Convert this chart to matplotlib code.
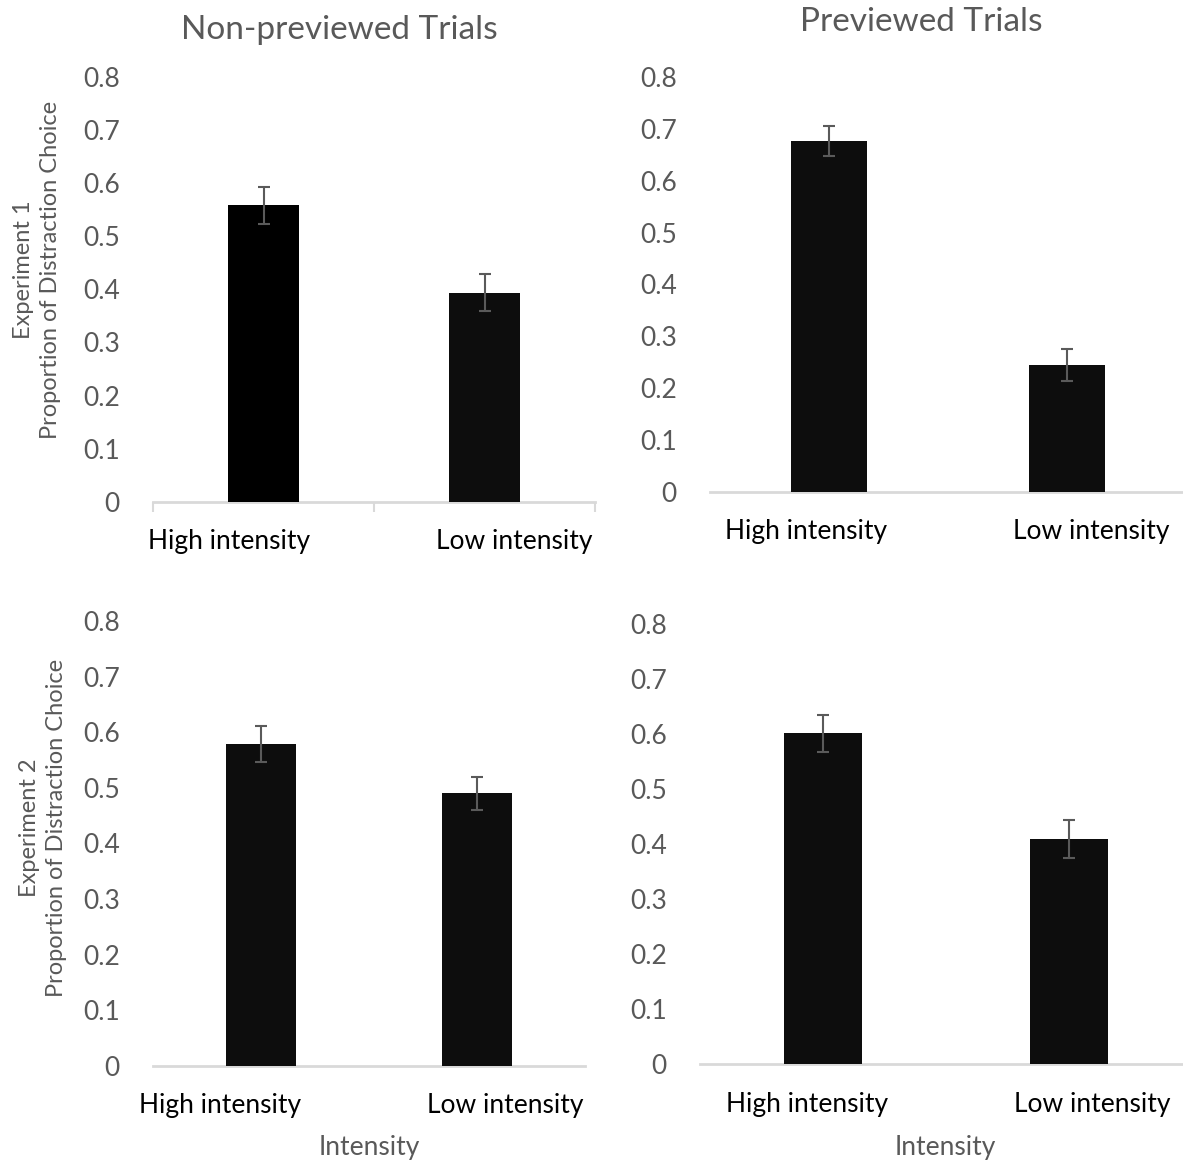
import matplotlib
matplotlib.use("Agg")
import matplotlib.pyplot as plt
import matplotlib.transforms as mtransforms

plt.rcParams['font.family'] = ['Lato', 'DejaVu Sans']

categories = ["High intensity", "Low intensity"]
exp1_nonprev = [0.558, 0.394]
exp1_nonprev_err = [0.035, 0.034]
exp1_prev = [0.676, 0.244]
exp1_prev_err = [0.029, 0.031]
exp2_nonprev = [0.579, 0.490]
exp2_nonprev_err = [0.032, 0.030]
exp2_prev = [0.601, 0.409]
exp2_prev_err = [0.033, 0.035]
yticks = [0, 0.1, 0.2, 0.3, 0.4, 0.5, 0.6, 0.7, 0.8]
ytick_labels = ["0", "0.1", "0.2", "0.3", "0.4", "0.5", "0.6", "0.7", "0.8"]

W, H = 1183, 1163
DPI = 100
fig = plt.figure(figsize=(W / DPI, H / DPI), dpi=DPI)

GRAY = "#595959"
AXIS = "#d9d9d9"
FS = 19


def px_axes(x0, x1, y_bottom, y_top):
    return fig.add_axes([x0 / W, 1 - y_bottom / H, (x1 - x0) / W, (y_bottom - y_top) / H])


panels = [
    ((153, 595, 501.7, 77), exp1_nonprev, exp1_nonprev_err, (-34, 30), ["#000000", "#0d0d0d"], True),
    ((710, 1186, 491.7, 77), exp1_prev, exp1_prev_err, (-23, 24), ["#0d0d0d", "#0d0d0d"], False),
    ((153, 585, 1065.7, 621), exp2_nonprev, exp2_nonprev_err, (-41, 28), ["#0d0d0d", "#0d0d0d"], False),
    ((700, 1192, 1064, 624), exp2_prev, exp2_prev_err, (-16, 23), ["#0d0d0d", "#0d0d0d"], False),
]

axes = []
for (box, vals, errs, offs, colors, ticks) in panels:
    ax = px_axes(*box)
    axes.append(ax)
    x = list(range(len(categories)))
    ax.bar(x, vals, width=0.32, color=colors, edgecolor="none", zorder=2)
    ax.errorbar(x, vals, yerr=errs, fmt="none", ecolor="#5a5a5a", elinewidth=1.5,
                capsize=4.5, capthick=1.5, zorder=3)
    ax.set_xlim(-0.5, 1.5)
    ax.set_ylim(0, 0.8)
    ax.set_yticks(yticks)
    ax.set_yticklabels(ytick_labels)
    ax.tick_params(axis="y", length=0, pad=24, labelsize=FS, labelcolor=GRAY)
    for s in ["top", "right", "left"]:
        ax.spines[s].set_visible(False)
    ax.spines["bottom"].set_color(AXIS)
    ax.spines["bottom"].set_linewidth(2)
    ax.spines["bottom"].set_zorder(1)
    ax.set_xticks(x)
    ax.set_xticklabels(categories)
    ax.tick_params(axis="x", length=0, pad=20, labelsize=FS, labelcolor="black")
    if ticks:
        ax.set_xticks([-0.5, 0.5, 1.5], minor=True)
        ax.tick_params(axis="x", which="minor", length=7, width=1.5, color=AXIS, direction="out")
    for lab, dx in zip(ax.get_xticklabels(), offs):
        lab.set_transform(lab.get_transform() + mtransforms.ScaledTranslation(dx / DPI, 0, fig.dpi_scale_trans))
    ax.patch.set_alpha(0)

# Titles
fig.text(339 / W, 1 - 30 / H, "Non-previewed Trials", ha="center", va="center", fontsize=24, color=GRAY)
fig.text(921 / W, 1 - 22 / H, "Previewed Trials", ha="center", va="center", fontsize=24, color=GRAY)

# Y labels
fig.text(37 / W, 1 - 270 / H, "Experiment 1\nProportion of Distraction Choice", ha="center", va="center",
         rotation=90, fontsize=17, color=GRAY, multialignment="center", linespacing=1.4)
fig.text(43 / W, 1 - 828 / H, "Experiment 2\nProportion of Distraction Choice", ha="center", va="center",
         rotation=90, fontsize=17, color=GRAY, multialignment="center", linespacing=1.4)

# X labels
fig.text(369 / W, 1 - 1147 / H, "Intensity", ha="center", va="center", fontsize=FS, color=GRAY)
fig.text(945 / W, 1 - 1147 / H, "Intensity", ha="center", va="center", fontsize=FS, color=GRAY)

fig.savefig("out.png", dpi=DPI, facecolor="white")
